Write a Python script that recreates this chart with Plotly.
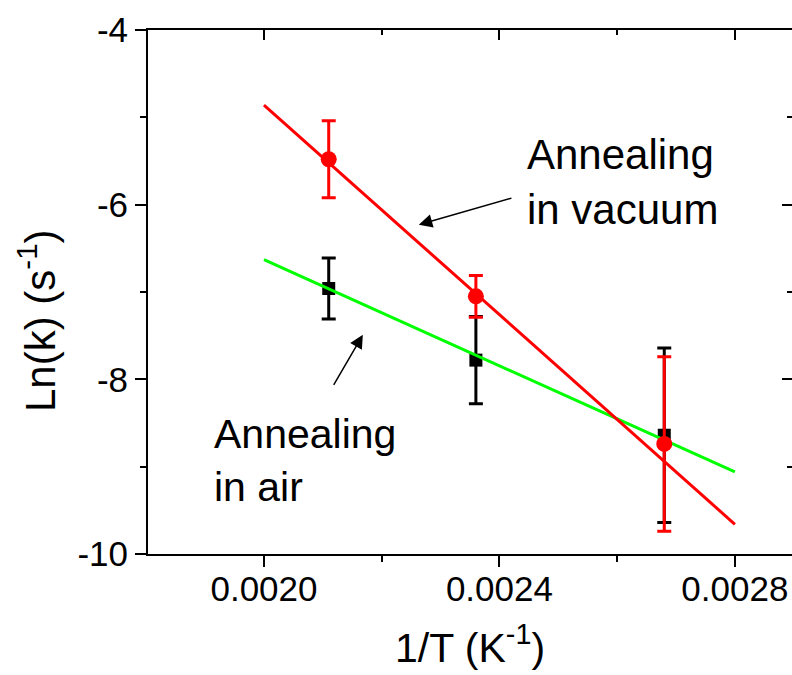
import plotly.graph_objects as go

# ---- data ----
inv_T = [0.00211, 0.00236, 0.00268]
lnk_vacuum = [-5.48, -7.05, -8.74]
err_vacuum = [0.44, 0.24, 1.00]
lnk_air = [-6.96, -7.78, -8.64]
err_air = [0.35, 0.50, 1.00]
fit_x = [0.0020, 0.0028]
fit_vacuum = [-4.86, -9.66]
fit_air = [-6.63, -9.06]

x_ticks = [0.0020, 0.0024, 0.0028]
x_ticktext = ["0.0020", "0.0024", "0.0028"]
y_ticks = [-10, -8, -6, -4]
y_ticktext = ["-10", "-8", "-6", "-4"]

XR = [0.001803, 0.002897]
YR = [-10, -4]
FONT = "Liberation Sans, Arial, sans-serif"

fig = go.Figure()

# air data (black squares)
fig.add_trace(go.Scatter(
    x=inv_T, y=lnk_air, mode="markers",
    marker=dict(symbol="square", size=13, color="black"),
    error_y=dict(type="data", array=err_air, color="black", thickness=3, width=7),
    showlegend=False))
# air fit (green)
fig.add_trace(go.Scatter(
    x=fit_x, y=fit_air, mode="lines",
    line=dict(color="#00FF00", width=3), showlegend=False))
# vacuum data (red circles)
fig.add_trace(go.Scatter(
    x=inv_T, y=lnk_vacuum, mode="markers",
    marker=dict(symbol="circle", size=16, color="#FF0000"),
    error_y=dict(type="data", array=err_vacuum, color="#FF0000", thickness=3, width=7),
    showlegend=False))
# vacuum fit (red)
fig.add_trace(go.Scatter(
    x=fit_x, y=fit_vacuum, mode="lines",
    line=dict(color="#FF0000", width=3), showlegend=False))

tickfont = dict(family=FONT, size=35, color="black")

fig.update_layout(
    width=792, height=675,
    margin=dict(l=148, r=0, t=30, b=121),
    paper_bgcolor="white", plot_bgcolor="white",
    font=dict(family=FONT, color="black"),
    xaxis=dict(
        range=XR, showgrid=False, zeroline=False,
        showline=True, linecolor="black", linewidth=2,
        ticks="outside", ticklen=11, tickwidth=2, tickcolor="black",
        tickvals=x_ticks, ticktext=x_ticktext, tickfont=tickfont,
        ticklabelstandoff=-8,
        minor=dict(dtick=0.0002, tick0=0.0018, ticks="outside", ticklen=6,
                   tickwidth=2, tickcolor="black", showgrid=False),
        title=dict(text="1/T (K<sup>-1</sup>)", font=dict(family=FONT, size=41),
                   standoff=26),
    ),
    yaxis=dict(
        range=YR, showgrid=False, zeroline=False,
        showline=True, linecolor="black", linewidth=2,
        ticks="outside", ticklen=11, tickwidth=2, tickcolor="black",
        tickvals=y_ticks, ticktext=y_ticktext, tickfont=tickfont,
        minor=dict(dtick=1, tick0=-10, ticks="outside", ticklen=6,
                   tickwidth=2, tickcolor="black", showgrid=False),
    ),
    xaxis2=dict(
        overlaying="x", side="top", range=XR, showgrid=False, zeroline=False,
        showline=True, linecolor="black", linewidth=2,
        ticks="inside", ticklen=10, tickwidth=2, tickcolor="black",
        tickvals=x_ticks, showticklabels=False,
        minor=dict(dtick=0.0002, tick0=0.0018, ticks="inside", ticklen=5,
                   tickwidth=2, tickcolor="black", showgrid=False),
    ),
    yaxis2=dict(
        overlaying="y", side="right", range=YR, showgrid=False, zeroline=False,
        showline=False,
        ticks="inside", ticklen=10, tickwidth=2, tickcolor="black",
        tickvals=y_ticks, showticklabels=False,
        minor=dict(dtick=1, tick0=-10, ticks="inside", ticklen=5,
                   tickwidth=2, tickcolor="black", showgrid=False),
    ),
)

# invisible trace so the mirror axes are rendered
fig.add_trace(go.Scatter(x=[XR[0]], y=[YR[0]], xaxis="x2", yaxis="y2",
                         mode="markers", marker=dict(opacity=0),
                         hoverinfo="skip", showlegend=False))

# y-axis title (placed slightly below centre, as in the reference)
fig.add_annotation(x=(37 - 148) / 644, y=(554 - 321) / 524,
                   xref="paper", yref="paper",
                   text="Ln(k) (s<sup>-1</sup>)", showarrow=False, textangle=-90,
                   xanchor="center", yanchor="middle",
                   font=dict(family=FONT, size=42, color="black"))

fig.add_annotation(x=0.002443, y=-5.74, xref="x", yref="y",
                   text="Annealing<br>in vacuum", showarrow=False,
                   xanchor="left", yanchor="middle", align="left",
                   font=dict(family=FONT, size=42, color="black"))
fig.add_annotation(x=0.001912, y=-8.93, xref="x", yref="y",
                   text="Annealing<br>in air", showarrow=False,
                   xanchor="left", yanchor="middle", align="left",
                   font=dict(family=FONT, size=41, color="black"))
# arrows
fig.add_annotation(x=0.002263, y=-6.23, ax=0.002423, ay=-5.92,
                   xref="x", yref="y", axref="x", ayref="y",
                   text="", showarrow=True, arrowhead=2, arrowsize=1.8,
                   arrowwidth=1.5, arrowcolor="black")
fig.add_annotation(x=0.002168, y=-7.49, ax=0.002117, ay=-8.08,
                   xref="x", yref="y", axref="x", ayref="y",
                   text="", showarrow=True, arrowhead=2, arrowsize=1.8,
                   arrowwidth=1.5, arrowcolor="black")

fig.write_html("out.html")
